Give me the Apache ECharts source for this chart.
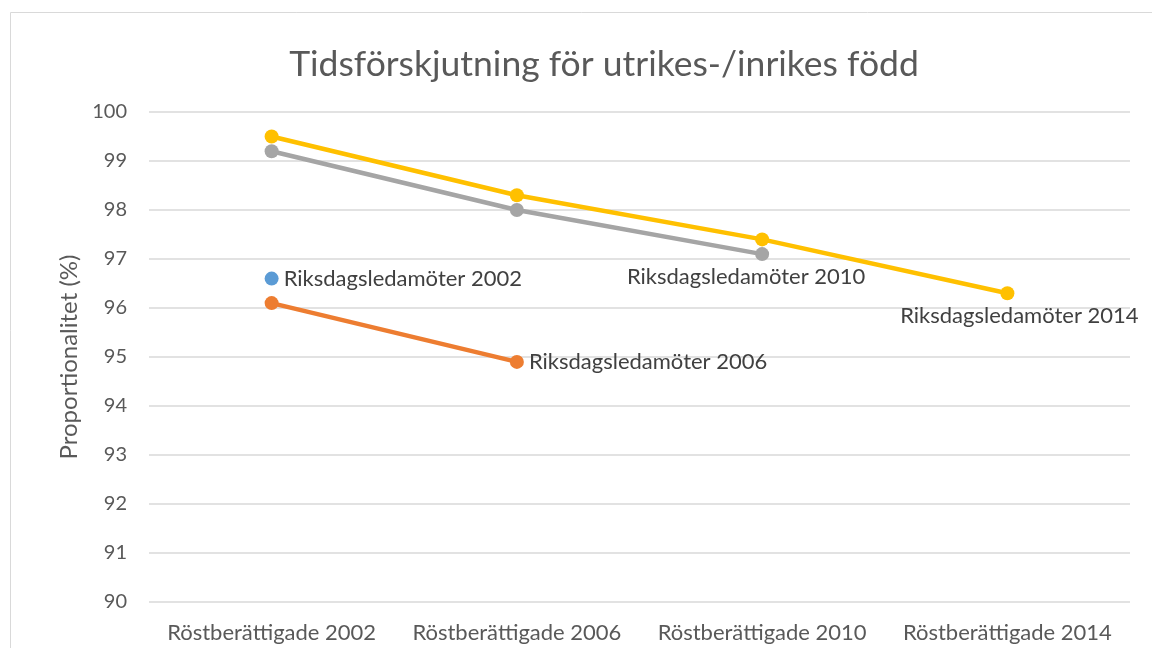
<!DOCTYPE html>
<html>
<head>
<meta charset="utf-8">
<script src="https://cdn.jsdelivr.net/npm/echarts@6/dist/echarts.min.js"></script>
<style>
  html, body { margin: 0; padding: 0; background: #fff; }
  #chart { width: 1152px; height: 648px; }
</style>
</head>
<body>
<div id="chart"></div>
<script>
var categories = ['Röstberättigade 2002', 'Röstberättigade 2006', 'Röstberättigade 2010', 'Röstberättigade 2014'];
var seriesNames = ['Riksdagsledamöter 2002', 'Riksdagsledamöter 2006', 'Riksdagsledamöter 2010', 'Riksdagsledamöter 2014'];
var values2002 = [96.6, null, null, null];
var values2006 = [96.1, 94.9, null, null];
var values2010 = [99.2, 98.0, 97.1, null];
var values2014 = [99.5, 98.3, 97.4, 96.3];
var colors = ['#5b9bd5', '#ed7d31', '#a5a5a5', '#ffc000'];
var labelPos = ['right', 'right', 'bottom', 'bottom'];
var labelShift = [0, 0, -16, 12];

var allValues = [values2002, values2006, values2010, values2014];

// label only the last point of each line
function makeSeries(i) {
  var vals = allValues[i];
  var last = -1;
  for (var k = 0; k < vals.length; k++) {
    if (vals[k] != null) last = k;
  }
  var data = vals.map(function (v, k) {
    if (k === last) {
      return {
        value: v,
        label: {
          show: true,
          position: labelPos[i],
          distance: 5,
          offset: [labelShift[i], 0],
          formatter: seriesNames[i],
          color: '#404040',
          fontSize: 22,
          fontFamily: 'Lato'
        }
      };
    }
    return v;
  });
  return {
    name: seriesNames[i],
    type: 'line',
    data: data,
    symbol: 'circle',
    symbolSize: 14,
    showAllSymbol: true,
    lineStyle: { color: colors[i], width: 4.5 },
    itemStyle: { color: colors[i] },
    emphasis: { disabled: true },
    z: 2 + i
  };
}

var myChart = echarts.init(document.getElementById('chart'));
var option = {
  animation: false,
  title: {
    text: 'Tidsförskjutning för utrikes-/inrikes född',
    left: 599,
    textAlign: 'center',
    top: 42,
    textStyle: {
      color: '#595959',
      fontSize: 35.5,
      fontWeight: 'normal',
      fontFamily: 'Lato'
    }
  },
  graphic: [{
    type: 'rect',
    shape: { x: 10.5, y: 12.5, width: 1160, height: 660 },
    style: { fill: 'none', stroke: '#d9d9d9', lineWidth: 1 },
    silent: true
  }],
  grid: {
    left: 149,
    right: 22,
    top: 112,
    bottom: 46
  },
  xAxis: {
    type: 'category',
    data: categories,
    boundaryGap: true,
    axisLine: { show: false },
    axisTick: { show: false },
    axisLabel: {
      color: '#595959',
      fontSize: 22,
      fontFamily: 'Lato',
      margin: 20,
      interval: 0
    }
  },
  yAxis: {
    type: 'value',
    min: 90,
    max: 100,
    interval: 1,
    name: 'Proportionalitet (%)',
    nameLocation: 'middle',
    nameRotate: 90,
    nameGap: 67,
    nameTextStyle: {
      color: '#595959',
      fontSize: 24,
      fontFamily: 'Lato'
    },
    axisLine: { show: false },
    axisTick: { show: false },
    splitLine: { lineStyle: { color: '#d9d9d9', width: 1.5 } },
    axisLabel: {
      color: '#595959',
      fontSize: 20,
      fontFamily: 'Lato',
      margin: 22
    }
  },
  series: [makeSeries(0), makeSeries(1), makeSeries(2), makeSeries(3)]
};
option && myChart.setOption(option);
</script>
</body>
</html>
